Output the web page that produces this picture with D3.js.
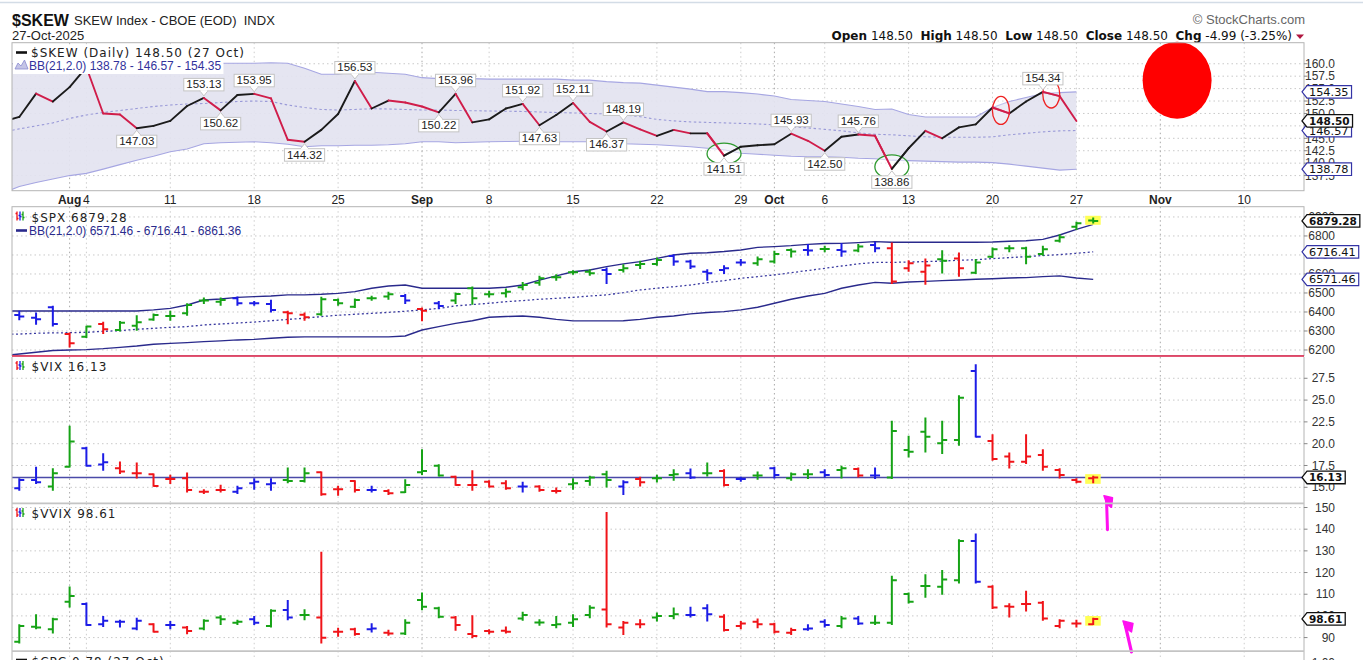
<!DOCTYPE html>
<html><head><meta charset="utf-8">
<script src="https://cdn.jsdelivr.net/npm/d3@7/dist/d3.min.js"></script>
<style>
html,body{margin:0;padding:0;background:#fff;}
svg{display:block;}
text{white-space:pre;}
</style></head><body>
<svg id="chart" width="1363" height="660" xmlns="http://www.w3.org/2000/svg"></svg>
<script>
// ================= DATA =================
const tradingDates = [
"2025-07-28","2025-07-29","2025-07-30","2025-07-31","2025-08-01",
"2025-08-04","2025-08-05","2025-08-06","2025-08-07","2025-08-08",
"2025-08-11","2025-08-12","2025-08-13","2025-08-14","2025-08-15",
"2025-08-18","2025-08-19","2025-08-20","2025-08-21","2025-08-22",
"2025-08-25","2025-08-26","2025-08-27","2025-08-28","2025-08-29",
"2025-09-02","2025-09-03","2025-09-04","2025-09-05",
"2025-09-08","2025-09-09","2025-09-10","2025-09-11","2025-09-12",
"2025-09-15","2025-09-16","2025-09-17","2025-09-18","2025-09-19",
"2025-09-22","2025-09-23","2025-09-24","2025-09-25","2025-09-26",
"2025-09-29","2025-09-30","2025-10-01","2025-10-02","2025-10-03",
"2025-10-06","2025-10-07","2025-10-08","2025-10-09","2025-10-10",
"2025-10-13","2025-10-14","2025-10-15","2025-10-16","2025-10-17",
"2025-10-20","2025-10-21","2025-10-22","2025-10-23","2025-10-24",
"2025-10-27","2025-10-28"];
const futureDates = ["2025-10-29","2025-10-30","2025-10-31",
"2025-11-03","2025-11-04","2025-11-05","2025-11-06","2025-11-07",
"2025-11-10","2025-11-11","2025-11-12","2025-11-13","2025-11-14"];

// $SKEW daily close (through 27 Oct)
const skewClose = [148.3,149.3,154.0,152.4,155.3,159.3,150.0,149.8,147.03,147.5,
 148.5,151.5,153.13,150.62,153.7,153.95,153.05,144.7,144.32,146.7,
 149.9,156.53,151.0,152.6,152.2,151.4,150.22,153.96,148.2,
 148.8,151.0,151.92,147.63,149.7,
 152.11,148.3,146.37,148.19,146.8,
 145.5,146.7,146.0,146.0,141.51,
 143.3,143.6,143.8,145.93,144.5,
 142.50,145.3,145.76,145.5,138.86,
 143.0,146.5,145.0,147.2,147.8,
 151.2,150.0,152.4,154.34,153.49,
 148.50];
const skewBBUpper = [160.0,160.0,160.2,160.2,160.3,160.8,160.6,160.5,160.4,160.3,
 160.3,160.2,160.1,160.1,160.1,160.1,160.2,160.1,159.1,157.9,
 157.9,158.4,158.3,158.1,157.9,157.2,157.0,157.1,157.0,
 156.9,156.9,156.9,156.9,156.9,
 156.7,156.7,156.4,156.2,156.1,
 155.7,155.3,154.9,154.4,154.4,
 154.2,153.9,153.5,152.8,152.6,
 152.4,151.9,151.4,150.8,150.9,
 149.8,149.3,149.3,149.3,149.3,
 151.2,152.4,153.2,154.0,154.2,
 154.35];
const skewBBMid = [146.2,146.9,147.5,148.1,149.0,149.7,150.2,150.6,151.0,151.4,
 151.7,151.9,152.0,152.2,152.4,152.5,152.4,151.7,151.2,150.8,
 150.7,150.8,150.95,150.9,150.8,150.7,150.7,150.6,150.55,
 150.5,150.45,150.4,150.3,150.2,
 150.1,150.0,149.9,149.7,149.35,
 148.8,148.5,148.3,148.2,148.1,
 148.0,147.9,147.7,147.3,147.1,
 146.8,146.5,146.1,145.8,145.7,
 145.5,145.3,145.2,145.2,145.2,
 145.3,145.7,146.0,146.3,146.5,
 146.57];
const skewBBLower = [134.0,135.3,136.1,136.8,137.5,137.95,138.8,139.7,140.6,141.4,
 142.3,142.85,143.9,144.1,144.2,144.3,144.1,143.8,143.3,143.5,
 143.5,143.6,143.6,143.7,143.9,144.3,144.3,144.1,144.2,
 144.3,144.35,144.4,144.4,144.3,
 144.3,144.3,144.1,143.9,143.8,
 143.7,143.5,143.3,143.0,142.7,
 142.0,141.8,141.6,141.4,141.3,
 141.3,141.2,141.0,140.9,140.6,
 140.5,140.4,140.3,140.2,140.2,
 140.1,139.8,139.4,139.0,138.6,
 138.78];
const skewLabelDates = ["2025-08-07","2025-08-13","2025-08-14","2025-08-18","2025-08-21",
 "2025-08-26","2025-09-03","2025-09-04","2025-09-10","2025-09-11","2025-09-15",
 "2025-09-17","2025-09-18","2025-09-26","2025-10-02","2025-10-06","2025-10-08",
 "2025-10-10","2025-10-23"];

// $SPX OHLC (u = up, d = down, n = other)
const spxOpen = [6400,6384,6370,6425,6284,6270,6337,6305,6328,6361,
 6379,6393,6460,6454,6472,6446,6442,6398,6385,6388,
 6463,6428,6472,6481,6484,6416,6446,6460,6525,
 6493,6498,6530,6554,6583,
 6609,6612,6621,6621,6647,
 6653,6695,6665,6612,6621,
 6661,6656,6665,6726,6726,
 6732,6726,6723,6753,6735,
 6630,6612,6677,6682,6607,
 6691,6735,6735,6705,6775,
 6849,6881];
const spxHigh = [6410,6402,6393,6428,6288,6323,6344,6349,6379,6388,
 6402,6442,6472,6472,6477,6454,6460,6402,6393,6476,
 6467,6467,6481,6502,6490,6419,6454,6498,6530,
 6507,6519,6554,6586,6595,
 6616,6621,6630,6647,6665,
 6682,6700,6670,6621,6642,
 6674,6688,6718,6730,6753,
 6744,6758,6753,6765,6761,
 6668,6677,6721,6709,6674,
 6735,6747,6739,6744,6805,
 6870,6893];
const spxLow = [6380,6361,6337,6328,6218,6267,6288,6302,6305,6358,
 6358,6384,6446,6437,6437,6437,6402,6340,6358,6384,
 6437,6425,6463,6468,6446,6355,6419,6446,6442,
 6481,6481,6519,6542,6568,
 6600,6595,6551,6612,6630,
 6647,6647,6630,6568,6604,
 6647,6647,6660,6691,6700,
 6718,6695,6718,6718,6551,
 6616,6547,6607,6590,6604,
 6688,6718,6656,6700,6770,
 6835,6870];
const spxClose = [6392,6376,6362,6337,6235,6323,6309,6344,6346,6384,
 6379,6437,6460,6463,6446,6446,6411,6393,6372,6467,
 6446,6463,6472,6493,6460,6407,6432,6495,6472,
 6493,6507,6542,6577,6583,
 6609,6604,6600,6630,6653,
 6674,6665,6639,6604,6630,
 6661,6677,6705,6718,6723,
 6732,6718,6744,6735,6560,
 6656,6644,6670,6630,6660,
 6730,6735,6691,6730,6793,
 6867,6879.28];
const spxDir = ["n","n","n","n","d","u","d","u","u","u",
 "u","u","u","u","n","n","n","d","d","u",
 "u","u","u","u","n","d","n","u","u",
 "u","u","u","u","u",
 "u","u","n","u","u",
 "u","n","n","n","n",
 "n","u","u","u","n",
 "u","n","u","n","d",
 "d","d","u","d","u",
 "u","u","u","u","u",
 "u","u"];
const spxBBUpper = [6405,6405,6405,6405,6405,6405,6405,6405,6405,6411,
 6419,6437,6463,6468,6477,6481,6484,6490,6490,6493,
 6498,6507,6525,6537,6542,6525,6525,6525,6525,
 6525,6530,6542,6568,6590,
 6612,6621,6639,6653,6665,
 6682,6700,6709,6712,6718,
 6726,6740,6744,6749,6756,
 6760,6761,6765,6770,6767,
 6767,6767,6767,6767,6767,
 6768,6772,6775,6782,6805,
 6835,6861.36];
const spxBBMid = [6283,6284,6288,6290,6291,6293,6298,6302,6309,6314,
 6319,6323,6332,6337,6342,6347,6354,6361,6367,6376,
 6383,6388,6393,6398,6404,6411,6419,6432,6439,
 6446,6454,6460,6467,6472,
 6477,6484,6490,6502,6516,
 6525,6533,6542,6554,6565,
 6577,6586,6595,6607,6618,
 6630,6642,6653,6661,6661,
 6663,6665,6668,6672,6675,
 6681,6686,6691,6697,6702,
 6709,6716.41];
const spxBBLower = [6169,6179,6188,6197,6200,6202,6207,6214,6221,6230,
 6235,6239,6244,6248,6253,6256,6262,6267,6269,6269,
 6269,6269,6269,6269,6274,6305,6323,6340,6354,
 6372,6376,6379,6372,6361,
 6353,6353,6353,6354,6361,
 6372,6379,6390,6397,6402,
 6411,6425,6446,6467,6484,
 6498,6525,6542,6556,6551,
 6558,6561,6565,6568,6572,
 6575,6579,6581,6586,6590,
 6579,6571.46];

// $VIX OHLC
const vixOpen = [15.5,14.89,15.84,15.08,17.37,19.47,17.6,17.18,16.61,16.49,
 15.96,16.03,14.5,14.69,14.5,15.46,15.34,15.84,15.73,16.72,
 14.77,15.73,14.69,14.58,14.43,16.72,17.48,16.22,15.27,
 15.65,15.46,15.08,15.08,14.58,
 15.34,15.73,16.49,15.08,15.96,
 16.03,16.41,16.61,16.61,16.87,
 15.96,16.34,17.18,16.03,16.49,
 16.72,16.99,17.1,16.34,16.11,
 19.28,21.38,20.05,20.43,28.34,
 20.31,18.52,17.94,18.71,16.99,
 15.84,16.03];
const vixHigh = [15.9,15.96,17.26,17.1,21.96,19.55,18.82,17.87,17.75,16.49,
 16.34,16.61,14.69,15.19,15.08,15.96,15.96,17.18,17.18,16.72,
 15.08,15.73,15.08,14.69,15.84,19.28,17.56,16.22,16.87,
 15.73,15.73,15.54,15.15,14.89,
 15.96,16.22,16.8,15.73,16.11,
 16.34,16.99,17.06,17.75,16.99,
 16.11,16.72,17.26,16.61,16.99,
 16.99,17.37,17.18,17.18,22.53,
 20.81,22.91,22.53,25.47,29.03,
 21.0,18.9,21.0,19.28,17.1,
 15.96,16.22];
const vixLow = [14.9,14.69,15.46,14.69,17.37,17.48,16.99,16.61,16.11,15.15,
 15.46,14.5,14.31,14.5,14.31,14.81,14.69,15.57,15.65,14.12,
 14.12,14.5,14.5,14.2,14.43,16.49,16.34,15.27,14.69,
 15.08,14.81,14.5,14.58,14.39,
 14.81,15.27,15.08,14.2,15.19,
 15.65,15.84,16.03,16.34,15.19,
 15.73,15.96,16.11,15.84,16.03,
 16.22,16.11,16.22,16.03,16.03,
 18.52,19.09,18.9,19.85,20.81,
 18.13,17.26,17.75,16.99,16.11,
 15.57,15.57];
const vixClose = [15.0,15.84,15.57,16.61,20.24,17.48,17.87,16.8,16.61,15.15,
 15.96,14.69,14.5,14.69,14.89,15.65,15.46,15.73,16.61,14.2,
 14.77,14.69,14.69,14.31,15.27,16.87,16.34,15.27,15.27,
 15.08,14.89,15.08,14.69,14.58,
 15.46,16.11,15.84,15.57,15.57,
 16.03,16.49,16.11,16.61,15.27,
 15.96,16.34,16.41,16.49,16.49,
 16.41,17.18,16.34,16.34,21.46,
 19.09,20.81,20.43,25.28,20.81,
 18.25,17.94,18.52,17.37,16.41,
 15.65,16.13];
const vixDir = ["n","n","n","u","u","n","n","d","d","d",
 "d","d","d","d","n","n","n","u","u","d",
 "d","d","n","d","u","u","u","d","d",
 "d","d","n","d","d",
 "u","u","u","n","d",
 "u","u","n","u","d",
 "n","u","n","u","u",
 "n","u","d","n","u",
 "u","u","u","u","n",
 "d","d","d","d","d",
 "d","d"];

// $VVIX OHLC
const vvixOpen = [92,88.1,95.0,93.8,106.5,105.5,96.2,97.3,94.2,96.2,
 95.8,94.7,94.2,99.3,96.8,98.4,95.3,102.7,100.4,99.3,
 92.7,93.8,93.8,92.2,91.9,107.3,103.5,99.3,91.6,
 93.0,93.2,98.8,97.0,95.8,
 96.8,100.4,103.0,94.7,96.2,
 99.3,99.9,100.4,103.5,99.6,
 95.3,97.3,96.2,92.2,93.8,
 97.3,95.3,98.8,96.8,96.8,
 110.1,113.8,113.5,116.5,134.5,
 113.5,104.5,105.5,106.1,95.3,
 96.5,96.2];
const vvixHigh = [96,95.8,100.4,98.8,113.2,105.8,99.6,97.8,98.8,96.2,
 97.3,95.0,98.1,99.9,97.8,99.6,102.7,107.0,102.7,129.2,
 94.2,94.2,96.2,93.2,98.1,110.4,103.8,99.6,99.9,
 93.5,94.7,101.5,98.1,99.6,
 100.4,104.5,147.6,97.3,98.1,
 101.2,103.5,103.8,105.0,100.4,
 97.3,98.4,96.5,94.2,95.8,
 98.1,99.6,99.6,99.9,118.1,
 110.4,118.8,120.8,135.0,137.6,
 113.8,105.5,111.2,106.5,98.1,
 97.8,98.8];
const vvixLow = [90,87.6,94.2,92.2,104.2,95.8,95.3,95.0,93.8,92.7,
 94.2,91.9,93.8,96.2,96.2,96.2,95.0,98.4,98.4,87.6,
 90.7,91.2,92.7,91.2,91.6,103.0,99.3,93.5,90.1,
 91.9,92.2,98.1,95.8,94.7,
 95.3,99.3,95.0,91.6,94.7,
 97.8,98.8,99.6,97.8,93.2,
 94.2,94.7,92.2,91.6,93.5,
 95.0,94.7,96.2,96.2,96.2,
 106.1,108.8,110.1,115.3,115.3,
 103.5,99.6,102.4,98.1,94.7,
 95.0,96.2];
const vvixClose = [92,95.3,94.7,98.4,109.2,95.8,97.8,97.3,97.8,92.7,
 95.8,93.0,97.8,98.4,97.3,96.8,102.4,99.3,100.4,89.9,
 92.7,91.6,94.2,91.9,96.8,104.2,99.6,95.8,90.7,
 92.7,92.7,100.4,97.0,96.2,
 98.4,103.8,96.2,96.8,96.2,
 99.9,100.8,100.4,100.8,93.5,
 96.5,96.2,92.7,93.5,94.2,
 95.8,98.8,96.5,96.8,116.5,
 106.5,113.8,116.8,134.5,115.8,
 103.9,104.2,105.5,98.8,97.8,
 96.5,98.61];
const vvixDir = ["n","u","u","u","u","n","n","n","n","d",
 "n","d","u","u","u","n","u","n","u","d",
 "d","d","n","d","u","u","u","d","d",
 "d","d","u","u","u",
 "u","u","d","d","d",
 "u","u","n","n","d",
 "d","d","d","d","n",
 "n","u","n","u","u",
 "u","u","u","u","n",
 "d","d","d","d","d",
 "d","d"];

// axis ticks
const skewTicks = [137.5,140,142.5,145,147.5,150,152.5,155,157.5,160];
const spxTicks = [6200,6300,6400,6500,6600,6700,6800,6900];
const vixTicks = [15,17.5,20,22.5,25,27.5];
const vvixTicks = [90,100,110,120,130,140,150];
const weekTicks = ["2025-08-04","2025-08-11","2025-08-18","2025-08-25","2025-09-08","2025-09-15",
 "2025-09-22","2025-09-29","2025-10-06","2025-10-13","2025-10-20","2025-10-27","2025-11-10"];
const weekLabels = ["4","11","18","25","8","15","22","29","6","13","20","27","10"];
const monthTicks = ["2025-08-01","2025-09-02","2025-10-01","2025-11-03"];
const monthLabels = ["Aug","Sep","Oct","Nov"];

// ================= CHART =================
const SANS = "'Liberation Sans', Arial, Helvetica, sans-serif";
const VER = "'DejaVu Sans', Verdana, sans-serif";
const colorMap = {u:"#16a316", d:"#f01419", n:"#1c1ce6"};
const svg = d3.select("#chart");
const PL = 12, PR = 1304;

const allDates = tradingDates.concat(futureDates);
const x = d3.scalePoint().domain(allDates).range([2.5, 2.5 + 16.78*(allDates.length-1)]);

const panels = {
  skew: {top:42.7, bottom:190.7, y:d3.scaleLinear().domain([134.458,164.236]).range([190.7,42.7])},
  spx:  {top:206.7, bottom:355.7, y:d3.scaleLinear().domain([6170,6954]).range([355.7,206.7])},
  vix:  {top:357, bottom:502.7, y:d3.scaleLinear().domain([13.234,29.94]).range([502.7,357])},
  vvix: {top:503.3, bottom:650.7, y:d3.scaleLinear().domain([83.95,151.94]).range([650.7,503.3])}
};

// top light rule
svg.append("line").attr("x1",0).attr("x2",1363).attr("y1",2.5).attr("y2",2.5).attr("stroke","#d3dce6").attr("stroke-width",1.5);

// header
svg.append("text").attr("x",12).attr("y",25.5).style("font",`bold 16px ${SANS}`).attr("fill","#111").text("$SKEW");
svg.append("text").attr("x",74).attr("y",25).style("font",`13px ${SANS}`).attr("fill","#222").text("SKEW Index - CBOE (EOD)  INDX");
svg.append("text").attr("x",12).attr("y",40).style("font",`13px ${SANS}`).attr("fill","#222").text("27-Oct-2025");
svg.append("text").attr("x",1305).attr("y",24).attr("text-anchor","end").style("font",`13px ${SANS}`).attr("fill","#666").text("\u00A9 StockCharts.com");
const hdr = svg.append("text").attr("x",1292).attr("y",39.5).attr("text-anchor","end").style("font",`12px ${VER}`).attr("fill","#111");
[["Open",true],[" 148.50  ",false],["High",true],[" 148.50  ",false],["Low",true],[" 148.50  ",false],
 ["Close",true],[" 148.50  ",false],["Chg",true],[" -4.99 (-3.25%)",false]].forEach(([t,b])=>{
  hdr.append("tspan").style("font-weight", b?"bold":"normal").text(t);
});
svg.append("path").attr("d","M1296,34.5 L1304,34.5 L1300,39 Z").attr("fill","#b0163f");

// clip paths
const defs = svg.append("defs");
Object.entries(panels).forEach(([k,p])=>{
  defs.append("clipPath").attr("id","clip-"+k).append("rect")
    .attr("x",PL).attr("y",p.top).attr("width",PR-PL).attr("height",p.bottom-p.top);
});
defs.append("clipPath").attr("id","clip-cpc").append("rect").attr("x",PL).attr("y",651).attr("width",PR-PL).attr("height",10);

function grid(key, ticks){
  const p = panels[key];
  const g = svg.append("g").attr("clip-path",`url(#clip-${key})`);
  g.selectAll("line.h").data(ticks).join("line")
    .attr("x1",PL).attr("x2",PR).attr("y1",d=>p.y(d)).attr("y2",d=>p.y(d))
    .attr("stroke","#c9c9c9").attr("stroke-dasharray","1.5,3");
  g.selectAll("line.w").data(weekTicks).join("line")
    .attr("x1",d=>x(d)).attr("x2",d=>x(d)).attr("y1",p.top).attr("y2",p.bottom)
    .attr("stroke","#cdcdcd").attr("stroke-dasharray","1.5,3");
  g.selectAll("line.m").data(monthTicks).join("line")
    .attr("x1",d=>x(d)).attr("x2",d=>x(d)).attr("y1",p.top).attr("y2",p.bottom)
    .attr("stroke","#a8a8a8").attr("stroke-dasharray","1.5,3");
  return g;
}

// ---------- SKEW panel ----------
const sk = panels.skew;
const gSk = grid("skew", skewTicks);
const skewPts = tradingDates.slice(0, skewClose.length);
const bandArea = d3.area().x(d=>x(d)).y0((d,i)=>sk.y(skewBBLower[i])).y1((d,i)=>sk.y(skewBBUpper[i]));
gSk.append("path").attr("d",bandArea(skewPts)).attr("fill","#e3e3f0").attr("fill-opacity",0.92);
const lineOf = arr => d3.line().x(d=>x(d)).y((d,i)=>sk.y(arr[i]));
gSk.append("path").attr("d",lineOf(skewBBUpper)(skewPts)).attr("fill","none").attr("stroke","#a6a6e2").attr("stroke-width",1.1);
gSk.append("path").attr("d",lineOf(skewBBLower)(skewPts)).attr("fill","none").attr("stroke","#a6a6e2").attr("stroke-width",1.1);
gSk.append("path").attr("d",lineOf(skewBBMid)(skewPts)).attr("fill","none").attr("stroke","#9a9ad8").attr("stroke-width",1.1).attr("stroke-dasharray","2.5,2.5");
// price line, coloured by direction
const segs = d3.pairs(skewPts.map((d,i)=>({d, v:skewClose[i]})));
gSk.selectAll("line.seg").data(segs).join("line")
  .attr("x1",s=>x(s[0].d)).attr("y1",s=>sk.y(s[0].v)).attr("x2",s=>x(s[1].d)).attr("y2",s=>sk.y(s[1].v))
  .attr("stroke",s=>s[1].v>=s[0].v?"#1b1b1b":"#d01d4a").attr("stroke-width",1.9).attr("stroke-linecap","round");

// annotations (hand-drawn ellipses)
const ann = svg.append("g");
[["2025-09-26",141.51,17,10.5],["2025-10-10",138.86,17,12]].forEach(([d,v,rx,ry])=>{
  ann.append("ellipse").attr("cx",x(d)).attr("cy",sk.y(v)-2).attr("rx",rx).attr("ry",ry)
    .attr("fill","#fff").attr("fill-opacity",0.55).attr("stroke","#2e9a2e").attr("stroke-width",1.3);
});
[["2025-10-20","2025-10-21"],["2025-10-23","2025-10-24"]].forEach(([a,b])=>{
  const ia = tradingDates.indexOf(a), ib = tradingDates.indexOf(b);
  ann.append("ellipse").attr("cx",(x(a)+x(b))/2).attr("cy",(sk.y(skewClose[ia])+sk.y(skewClose[ib]))/2)
    .attr("rx",8.5).attr("ry",14).attr("fill","#fff").attr("fill-opacity",0.3).attr("stroke","#ee2222").attr("stroke-width",1.3);
});
// re-draw the line through the ellipses
ann.selectAll("line.seg2").data(segs.filter(s=>["2025-09-26","2025-09-29","2025-10-10","2025-10-13","2025-10-21","2025-10-24"].includes(s[1].d)))
  .join("line").attr("x1",s=>x(s[0].d)).attr("y1",s=>sk.y(s[0].v)).attr("x2",s=>x(s[1].d)).attr("y2",s=>sk.y(s[1].v))
  .attr("stroke",s=>s[1].v>=s[0].v?"#1b1b1b":"#d01d4a").attr("stroke-width",1.9).attr("stroke-linecap","round");

// peak / trough labels
const labG = svg.append("g");
skewLabelDates.forEach(d=>{
  const i = tradingDates.indexOf(d);
  const v = skewClose[i];
  const above = v > skewClose[i-1];
  const cx = x(d), py = sk.y(v);
  const t = labG.append("text").attr("x",cx).attr("text-anchor","middle")
    .style("font",`11.5px ${SANS}`).attr("fill","#222").text(v.toFixed(2));
  const w = t.node().getComputedTextLength() + 5;
  const bh = 12.5;
  const by = above ? py - 7 - bh : py + 7;
  t.attr("y", by + 10);
  labG.insert("rect","text").attr("x",cx-w/2).attr("y",by).attr("width",w).attr("height",bh)
    .attr("fill","#fff").attr("stroke","#c4c4c4").attr("stroke-width",1);
  const edge = above ? by + bh : by;
  const tip = above ? py - 2 : py + 2;
  labG.append("path").attr("d",`M${cx-4},${edge} L${cx},${tip} L${cx+4},${edge}`)
    .attr("fill","#fff").attr("stroke","#c4c4c4").attr("stroke-width",1);
  labG.append("line").attr("x1",cx-3.3).attr("x2",cx+3.3).attr("y1",edge).attr("y2",edge).attr("stroke","#fff").attr("stroke-width",1.4);
});

// big red dot annotation
ann.append("ellipse").attr("cx",x("2025-11-04")).attr("cy",sk.y(156.7))
  .attr("rx",34.5).attr("ry",38.5).attr("fill","#ff0000");

// legend SKEW
function legendBg(g){
  const bb = g.node().getBBox();
  g.insert("rect",":first-child").attr("x",PL+1).attr("y",bb.y-1).attr("width",bb.x+bb.width-PL+1).attr("height",bb.height+2).attr("fill","#fff");
}
const lg1 = svg.append("g");
lg1.append("line").attr("x1",16).attr("x2",27).attr("y1",52.5).attr("y2",52.5).attr("stroke","#111").attr("stroke-width",2.6);
lg1.append("text").attr("x",31).attr("y",57).style("font",`12px ${VER}`).style("letter-spacing","1px").attr("fill","#222").text("$SKEW (Daily) 148.50 (27 Oct)");
legendBg(lg1);
const lg2 = svg.append("g");
lg2.append("path").attr("d","M15,69 L18,63 L21,66 L24.5,60 L28,69 Z").attr("fill","#c4c4e6").attr("stroke","#8a8ad0").attr("stroke-width",0.8);
lg2.append("text").attr("x",29).attr("y",70).style("font",`12px ${SANS}`).attr("fill","#32329c").text("BB(21,2.0) 138.78 - 146.57 - 154.35");
legendBg(lg2);

// ---------- OHLC panels ----------
function drawOHLC(key, O, Hh, Lo, C, dir){
  const p = panels[key], ys = p.y;
  const g = svg.append("g").attr("clip-path",`url(#clip-${key})`);
  const data = tradingDates.map((d,i)=>({d, o:O[i], h:Hh[i], l:Lo[i], c:C[i], k:dir[i]}));
  const last = data[data.length-1];
  const hy = ys(last.h), ly = ys(last.l);
  g.append("rect").attr("x",x(last.d)-8).attr("y",hy-2.5).attr("width",15.5).attr("height",Math.max(9,ly-hy+4)).attr("fill","#ffff55");
  const b = g.selectAll("g.bar").data(data).join("g").attr("stroke",d=>colorMap[d.k]).attr("stroke-width",2);
  b.append("line").attr("x1",d=>x(d.d)).attr("x2",d=>x(d.d)).attr("y1",d=>ys(d.h)-0.8).attr("y2",d=>ys(d.l)+0.8);
  b.append("line").attr("x1",d=>x(d.d)-5).attr("x2",d=>x(d.d)).attr("y1",d=>ys(d.o)).attr("y2",d=>ys(d.o));
  b.append("line").attr("x1",d=>x(d.d)).attr("x2",d=>x(d.d)+5).attr("y1",d=>ys(d.c)).attr("y2",d=>ys(d.c));
  return g;
}

// SPX
const sp = panels.spx;
const gSp = grid("spx", spxTicks);
const bbLine = arr => d3.line().x(d=>x(d)).y((d,i)=>sp.y(arr[i]));
gSp.append("path").attr("d",bbLine(spxBBUpper)(tradingDates)).attr("fill","none").attr("stroke","#2a2a8c").attr("stroke-width",1.4);
gSp.append("path").attr("d",bbLine(spxBBLower)(tradingDates)).attr("fill","none").attr("stroke","#2a2a8c").attr("stroke-width",1.4);
gSp.append("path").attr("d",bbLine(spxBBMid)(tradingDates)).attr("fill","none").attr("stroke","#3a3aa0").attr("stroke-width",1.3).attr("stroke-dasharray","2,2.5");
drawOHLC("spx", spxOpen, spxHigh, spxLow, spxClose, spxDir);

// VIX
const vx = panels.vix;
const gVx = grid("vix", vixTicks);
gVx.append("line").attr("x1",PL).attr("x2",PR).attr("y1",vx.y(vixClose[vixClose.length-1])).attr("y2",vx.y(vixClose[vixClose.length-1]))
  .attr("stroke","#4a4aa8").attr("stroke-width",1.6);
drawOHLC("vix", vixOpen, vixHigh, vixLow, vixClose, vixDir);

// VVIX
const vv = panels.vvix;
grid("vvix", vvixTicks);
drawOHLC("vvix", vvixOpen, vvixHigh, vvixLow, vvixClose, vvixDir);

// CPC strip gridlines
const gC = svg.append("g").attr("clip-path","url(#clip-cpc)");
gC.selectAll("line").data(weekTicks.concat(monthTicks)).join("line")
  .attr("x1",d=>x(d)).attr("x2",d=>x(d)).attr("y1",651).attr("y2",660).attr("stroke","#cdcdcd").attr("stroke-dasharray","1.5,3");

// small OHLC legend icon
function ohlcIcon(x0, y0){
  const g = svg.append("g").attr("stroke-width",1.3);
  [["#f01419",0,-1],["#1c1ce6",3,1],["#16a316",6,0]].forEach(([c,dx,o])=>{
    g.append("line").attr("x1",x0+dx).attr("x2",x0+dx).attr("y1",y0).attr("y2",y0+9).attr("stroke",c);
    g.append("line").attr("x1",x0+dx-1.5).attr("x2",x0+dx).attr("y1",y0+3+o).attr("y2",y0+3+o).attr("stroke",c);
    g.append("line").attr("x1",x0+dx).attr("x2",x0+dx+1.5).attr("y1",y0+6-o).attr("y2",y0+6-o).attr("stroke",c);
  });
}
ohlcIcon(17, 211.5);
svg.append("text").attr("x",31.5).attr("y",221.5).style("font",`12px ${VER}`).style("letter-spacing","1px").attr("fill","#222").text("$SPX 6879.28");
svg.append("line").attr("x1",16).attr("x2",27).attr("y1",230.5).attr("y2",230.5).attr("stroke","#2a2a8c").attr("stroke-width",2.6);
svg.append("text").attr("x",29).attr("y",234.5).style("font",`12px ${SANS}`).attr("fill","#2a2a8c").text("BB(21,2.0) 6571.46 - 6716.41 - 6861.36");
ohlcIcon(17, 361);
svg.append("text").attr("x",31.5).attr("y",370.5).style("font",`12px ${VER}`).style("letter-spacing","1px").attr("fill","#222").text("$VIX 16.13");
ohlcIcon(17, 508);
svg.append("text").attr("x",31.5).attr("y",517.5).style("font",`12px ${VER}`).style("letter-spacing","1px").attr("fill","#222").text("$VVIX 98.61");
svg.append("line").attr("x1",16).attr("x2",27).attr("y1",660).attr("y2",660).attr("stroke","#111").attr("stroke-width",2.6);
svg.append("text").attr("x",31.5).attr("y",665.5).style("font",`12px ${VER}`).style("letter-spacing","1px").attr("fill","#222").text("$CPC 0.78 (27 Oct)");

// magenta hand-drawn marks
const mx = x("2025-10-29");
const mag = svg.append("g").attr("stroke","#ff10f0").attr("fill","#ff10f0").attr("stroke-linecap","round").attr("stroke-linejoin","round");
const vvTop = vv.top;
mag.append("path").attr("d",`M${mx-2.5},${vvTop+26.5} L${mx-3.5},${vvTop-5}`).attr("stroke-width",3).attr("fill","none");
mag.append("path").attr("d",`M${mx-6},${vvTop-7.5} L${mx+2.5},${vvTop-5.5} L${mx+1.5},${vvTop+4} L${mx-3},${vvTop+1} Z`).attr("stroke-width",1.5);
const vLast = vv.y(vvixClose[vvixClose.length-1]);
mag.append("path").attr("d",`M${mx+21.5},${vLast+33} L${mx+15},${vLast+5}`).attr("stroke-width",3.2).attr("fill","none");
mag.append("path").attr("d",`M${mx+13},${vLast+2} L${mx+23},${vLast+4.5} L${mx+21.5},${vLast+13} L${mx+15.5},${vLast+9} Z`).attr("stroke-width",1.5);

// ---------- panel borders ----------
const bord = svg.append("g").attr("fill","none");
bord.append("rect").attr("x",PL).attr("y",sk.top).attr("width",PR-PL).attr("height",sk.bottom-sk.top).attr("stroke","#b4b4b4");
bord.append("rect").attr("x",PL).attr("y",sp.top).attr("width",PR-PL).attr("height",sp.bottom-sp.top).attr("stroke","#b4b4b4");
bord.append("line").attr("x1",PL).attr("x2",PR).attr("y1",356).attr("y2",356).attr("stroke","#e0204a").attr("stroke-width",1.3);
bord.append("line").attr("x1",PL).attr("x2",PL).attr("y1",357).attr("y2",660).attr("stroke","#b4b4b4");
bord.append("line").attr("x1",PR).attr("x2",PR).attr("y1",357).attr("y2",660).attr("stroke","#b4b4b4");
bord.append("line").attr("x1",PL).attr("x2",PR).attr("y1",vv.top).attr("y2",vv.top).attr("stroke","#c4c4c4").attr("stroke-width",1.8);
bord.append("line").attr("x1",PL).attr("x2",PR).attr("y1",vv.bottom+0.5).attr("y2",vv.bottom+0.5).attr("stroke","#c4c4c4").attr("stroke-width",1.8);

// ---------- x-axis labels ----------
const xl = svg.append("g").style("font",`12px ${SANS}`).attr("fill","#222").attr("text-anchor","middle");
xl.selectAll("text.w").data(weekTicks).join("text").attr("x",d=>x(d)).attr("y",203.5).text((d,i)=>weekLabels[i]);
xl.selectAll("text.m").data(monthTicks).join("text").attr("x",d=>x(d)).attr("y",203.5).style("font-weight","bold").text((d,i)=>monthLabels[i]);

// ---------- right axes ----------
const ax = svg.append("g");
function yAxis(key, ticks, fmt){
  const p = panels[key];
  ticks.forEach(t=>{
    ax.append("line").attr("x1",PR).attr("x2",PR+3.5).attr("y1",p.y(t)).attr("y2",p.y(t)).attr("stroke","#888");
    ax.append("text").attr("x",1335).attr("y",p.y(t)+4.2).attr("text-anchor","end").style("font",`12px ${SANS}`).attr("fill","#333").text(fmt(t));
  });
}
yAxis("skew", skewTicks, d=>d.toFixed(1));
yAxis("spx", spxTicks, d=>String(d));
yAxis("vix", vixTicks, d=>d.toFixed(1));
yAxis("vvix", vvixTicks, d=>String(d));
ax.append("text").attr("x",1335).attr("y",667).attr("text-anchor","end").style("font",`12px ${SANS}`).attr("fill","#333").text("1.00");

function valueTag(key, v, current){
  const yPos = panels[key].y(v);
  const g = ax.append("g");
  const t = g.append("text").attr("x",1309).attr("y",yPos+4)
    .style("font", current ? `bold 10.5px ${VER}` : `11.3px ${VER}`).attr("fill","#111").text(v.toFixed(2));
  const w = t.node().getComputedTextLength();
  const x0 = 1302, x1 = 1309 + w + 3;
  g.insert("path","text").attr("d",`M${x0},${yPos} L${x0+5},${yPos-6.3} L${x1},${yPos-6.3} L${x1},${yPos+6.3} L${x0+5},${yPos+6.3} Z`)
    .attr("fill","#fff").attr("stroke", current ? "#111" : "#3434a6").attr("stroke-width", current ? 1.3 : 1.2);
}
valueTag("skew", skewBBUpper[skewBBUpper.length-1], false);
valueTag("skew", skewBBMid[skewBBMid.length-1], false);
valueTag("skew", skewBBLower[skewBBLower.length-1], false);
valueTag("skew", skewClose[skewClose.length-1], true);
valueTag("spx", spxBBMid[spxBBMid.length-1], false);
valueTag("spx", spxBBLower[spxBBLower.length-1], false);
valueTag("spx", spxClose[spxClose.length-1], true);
valueTag("vix", vixClose[vixClose.length-1], true);
valueTag("vvix", vvixClose[vvixClose.length-1], true);
</script>
</body></html>
